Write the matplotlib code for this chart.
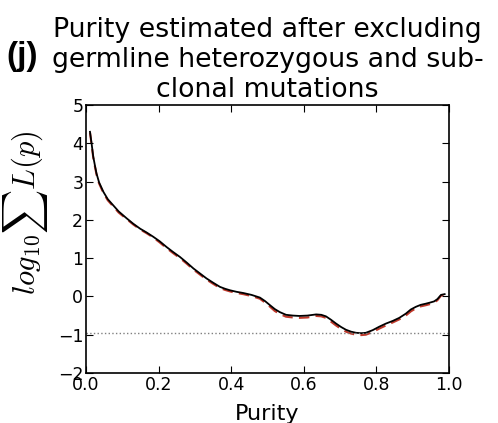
import matplotlib
matplotlib.use("Agg")
import matplotlib.pyplot as plt
import numpy as np

purity = [0.011, 0.016, 0.02, 0.025, 0.029, 0.036, 0.048, 0.06, 0.075, 0.09, 0.112, 0.13,
          0.149, 0.167, 0.185, 0.203, 0.222, 0.24, 0.259, 0.278, 0.296,
          0.314, 0.332, 0.35, 0.369, 0.383, 0.397, 0.415, 0.433, 0.456, 0.479, 0.493, 0.507,
          0.52, 0.534, 0.551, 0.57, 0.588, 0.61, 0.634, 0.648, 0.661,
          0.675, 0.689, 0.703, 0.716, 0.73, 0.744, 0.758, 0.771, 0.79, 0.808, 0.826, 0.845,
          0.863, 0.881, 0.895, 0.909, 0.922, 0.936, 0.948, 0.959, 0.968, 0.978, 0.988]
loglik_full = [4.30, 3.95, 3.65, 3.40, 3.21, 2.98, 2.73, 2.54, 2.38, 2.22, 2.04, 1.90,
               1.77, 1.67, 1.56, 1.44, 1.29, 1.16, 1.03, 0.88, 0.73,
               0.60, 0.47, 0.36, 0.25, 0.20, 0.16, 0.12, 0.09, 0.04, -0.03, -0.12, -0.23,
               -0.33, -0.41, -0.48, -0.50, -0.51, -0.50, -0.47, -0.48, -0.52,
               -0.61, -0.71, -0.80, -0.87, -0.92, -0.95, -0.96, -0.95, -0.88, -0.79, -0.71, -0.64,
               -0.56, -0.45, -0.34, -0.27, -0.22, -0.19, -0.16, -0.13, -0.07, 0.04, 0.06]
loglik_approx = [4.28, 3.92, 3.62, 3.37, 3.18, 2.95, 2.70, 2.51, 2.35, 2.19, 2.02, 1.88,
                 1.75, 1.65, 1.54, 1.41, 1.26, 1.13, 1.00, 0.85, 0.70,
                 0.57, 0.44, 0.33, 0.22, 0.17, 0.13, 0.09, 0.06, 0.01, -0.06, -0.16, -0.27,
                 -0.38, -0.46, -0.53, -0.55, -0.56, -0.55, -0.51, -0.52, -0.56,
                 -0.66, -0.76, -0.85, -0.92, -0.97, -1.00, -1.01, -1.00, -0.93, -0.84, -0.76, -0.68,
                 -0.60, -0.50, -0.39, -0.31, -0.26, -0.23, -0.20, -0.16, -0.10, 0.02, 0.05]
threshold = -0.95

plt.rcParams['mathtext.fontset'] = 'cm'
fig = plt.figure(figsize=(4.98, 4.23), dpi=100)
ax = fig.add_axes([86/498, 1-373/423, (449-86)/498, (373-105)/423])

ax.plot(purity, loglik_approx, color='#c0392b', lw=1.5, ls='--', dashes=(5, 3))
ax.plot(purity, loglik_full, color='black', lw=1.3)
ax.axhline(threshold, color='grey', ls=':', lw=1)

ax.set_xlim(0, 1)
ax.set_ylim(-2, 5)
ax.set_xticks([0, 0.2, 0.4, 0.6, 0.8, 1.0])
ax.set_yticks(range(-2, 6))
ax.tick_params(direction='in', top=True, right=True, labelsize=12.5, length=5, pad=2)
for s in ax.spines.values():
    s.set_linewidth(1.2)
ax.set_xlabel('Purity', fontsize=16, labelpad=7)
ax.set_ylabel(r'$log_{10}\sum L(p)$', fontsize=22)
ax.yaxis.set_label_coords(-0.1, 0.6)
ax.set_title('Purity estimated after excluding\ngermline heterozygous and sub-\nclonal mutations',
             fontsize=19.3, pad=6, linespacing=1.2)
fig.text(0.012, 1-56/423, '(j)', fontsize=24, fontweight='bold', va='center', ha='left',
         family='Liberation Sans')

fig.savefig('out.png', dpi=100)
